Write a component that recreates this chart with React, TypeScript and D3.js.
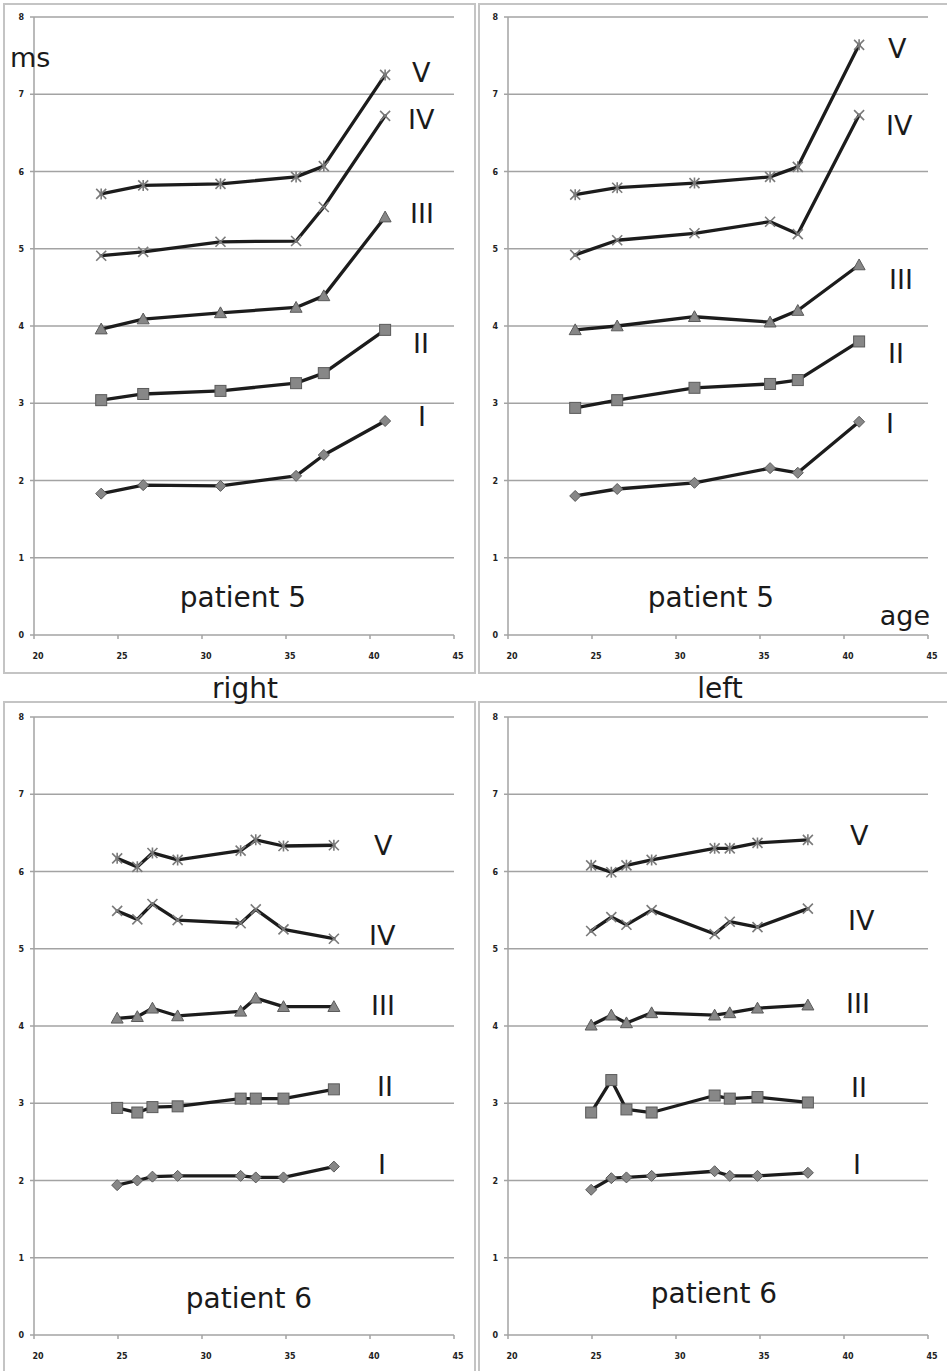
import React from "react";
import * as d3 from "d3";

// ---- data ----
const xTicks = [20, 25, 30, 35, 40, 45];
const yTicks = [0, 1, 2, 3, 4, 5, 6, 7, 8];
const waveNames = ["I", "II", "III", "IV", "V"];

const p5Age = [24.0, 26.5, 31.1, 35.6, 37.25, 40.9];
const p5RightI = [1.83, 1.94, 1.93, 2.06, 2.33, 2.77];
const p5RightII = [3.04, 3.12, 3.16, 3.26, 3.39, 3.95];
const p5RightIII = [3.96, 4.09, 4.17, 4.24, 4.39, 5.41];
const p5RightIV = [4.91, 4.96, 5.09, 5.1, 5.54, 6.72];
const p5RightV = [5.71, 5.82, 5.84, 5.93, 6.07, 7.25];

const p5LeftI = [1.8, 1.89, 1.97, 2.16, 2.1, 2.76];
const p5LeftII = [2.94, 3.04, 3.2, 3.25, 3.3, 3.8];
const p5LeftIII = [3.95, 4.0, 4.12, 4.05, 4.2, 4.79];
const p5LeftIV = [4.92, 5.11, 5.2, 5.35, 5.19, 6.73];
const p5LeftV = [5.7, 5.79, 5.85, 5.93, 6.06, 7.64];

const p6Age = [24.95, 26.15, 27.05, 28.55, 32.3, 33.2, 34.85, 37.85];
const p6RightI = [1.94, 2.0, 2.05, 2.06, 2.06, 2.04, 2.04, 2.18];
const p6RightII = [2.94, 2.88, 2.95, 2.96, 3.06, 3.06, 3.06, 3.18];
const p6RightIII = [4.1, 4.12, 4.23, 4.13, 4.19, 4.36, 4.25, 4.25];
const p6RightIV = [5.49, 5.38, 5.58, 5.37, 5.33, 5.51, 5.25, 5.13];
const p6RightV = [6.17, 6.06, 6.24, 6.15, 6.27, 6.41, 6.33, 6.34];

const p6LeftI = [1.88, 2.03, 2.04, 2.06, 2.12, 2.06, 2.06, 2.1];
const p6LeftII = [2.88, 3.3, 2.92, 2.88, 3.1, 3.06, 3.08, 3.01];
const p6LeftIII = [4.01, 4.14, 4.04, 4.17, 4.14, 4.17, 4.23, 4.27];
const p6LeftIV = [5.23, 5.41, 5.31, 5.5, 5.19, 5.35, 5.28, 5.52];
const p6LeftV = [6.08, 5.99, 6.08, 6.15, 6.3, 6.3, 6.37, 6.41];

// wave label anchors in data coordinates [age, ms]
const p5RightLabelPos = [[42.86, 2.71], [42.56, 3.65], [42.38, 5.33], [42.26, 6.55], [42.5, 7.16]];
const p5LeftLabelPos = [[42.5, 2.61], [42.62, 3.52], [42.68, 4.48], [42.5, 6.47], [42.62, 7.47]];
const p6RightLabelPos = [[40.48, 2.08], [40.42, 3.09], [40.06, 4.14], [39.94, 5.05], [40.24, 6.21]];
const p6LeftLabelPos = [[40.54, 2.08], [40.42, 3.08], [40.12, 4.17], [40.24, 5.24], [40.36, 6.34]];

const FONT = "DejaVu Sans, Verdana, sans-serif";

type PanelProps = {
  ox: number;
  oy: number;
  frame: [number, number, number, number];
  ages: number[];
  series: number[][];
  labelPos: number[][];
  title: string;
  titleX: number;
  titleY: number;
};

function Marker({ kind, x, y }: { kind: number; x: number; y: number }) {
  const fill = "#878787";
  const stroke = "#5a5a5a";
  if (kind === 0) {
    const r = 5.5;
    return (
      <path
        d={`M${x},${y - r}L${x + r},${y}L${x},${y + r}L${x - r},${y}Z`}
        fill={fill}
        stroke={stroke}
        strokeWidth={1}
      />
    );
  }
  if (kind === 1) {
    const r = 5.5;
    return <rect x={x - r} y={y - r} width={2 * r} height={2 * r} fill={fill} stroke={stroke} strokeWidth={1} />;
  }
  if (kind === 2) {
    const r = 6;
    return (
      <path
        d={`M${x},${y - r}L${x + r},${y + r * 0.8}L${x - r},${y + r * 0.8}Z`}
        fill={fill}
        stroke={stroke}
        strokeWidth={1}
      />
    );
  }
  const r = 5;
  let d = `M${x - r},${y - r}L${x + r},${y + r}M${x - r},${y + r}L${x + r},${y - r}`;
  if (kind === 4) d += `M${x},${y - r - 0.5}L${x},${y + r + 0.5}`;
  return <path d={d} stroke="#7a7a7a" strokeWidth={1.6} fill="none" />;
}

function Panel(p: PanelProps) {
  const x = d3.scaleLinear().domain([20, 45]).range([p.ox + 34, p.ox + 454]);
  const y = d3.scaleLinear().domain([0, 8]).range([p.oy + 635, p.oy + 17]);
  const line = d3
    .line<number>()
    .x((_, i) => x(p.ages[i]))
    .y((v) => y(v));
  const [fx, fy, fw, fh] = p.frame;
  return (
    <g>
      <rect x={fx} y={fy} width={fw} height={fh} fill="#fff" stroke="#c4c4c4" strokeWidth={2} />
      {yTicks.map((t) => (
        <g key={"y" + t}>
          <line x1={x(20)} x2={x(45)} y1={y(t)} y2={y(t)} stroke="#a3a3a3" strokeWidth={1.5} />
          <line x1={x(20) - 4} x2={x(20)} y1={y(t)} y2={y(t)} stroke="#a3a3a3" strokeWidth={1.5} />
          <text x={x(20) - 10} y={y(t) + 3} fontSize={8} fontWeight="bold" fontFamily={FONT} textAnchor="end" fill="#222">
            {t}
          </text>
        </g>
      ))}
      <line x1={x(20)} x2={x(20)} y1={y(0)} y2={y(8)} stroke="#a3a3a3" strokeWidth={1.5} />
      {xTicks.map((t) => (
        <g key={"x" + t}>
          <line x1={x(t)} x2={x(t)} y1={y(0)} y2={y(0) + 4} stroke="#a3a3a3" strokeWidth={1.5} />
          <text x={x(t) + 4} y={y(0) + 24} fontSize={8} fontWeight="bold" fontFamily={FONT} textAnchor="middle" fill="#222">
            {t}
          </text>
        </g>
      ))}
      {p.series.map((s, k) => (
        <path
          key={"l" + k}
          d={line(s) || ""}
          fill="none"
          stroke="#1c1c1c"
          strokeWidth={3.3}
          strokeLinejoin="round"
          strokeLinecap="round"
        />
      ))}
      {p.series.map((s, k) =>
        s.map((v, i) => <Marker key={"m" + k + "-" + i} kind={k} x={x(p.ages[i])} y={y(v)} />)
      )}
      {p.labelPos.map((lp, k) => (
        <text key={"w" + k} x={x(lp[0])} y={y(lp[1])} fontSize={27} fontFamily={FONT} fill="#1a1a1a">
          {waveNames[k]}
        </text>
      ))}
      <text x={p.titleX} y={p.titleY} fontSize={28} fontFamily={FONT} textAnchor="middle" fill="#1a1a1a">
        {p.title}
      </text>
    </g>
  );
}

export default function App() {
  return (
    <svg
      width={947}
      height={1371}
      style={{ position: "absolute", left: 0, top: 0, background: "#fff" }}
    >
      <rect x={0} y={0} width={947} height={1371} fill="#fff" />
      <Panel
        ox={0}
        oy={0}
        frame={[4, 4, 471, 669]}
        ages={p5Age}
        series={[p5RightI, p5RightII, p5RightIII, p5RightIV, p5RightV]}
        labelPos={p5RightLabelPos}
        title="patient 5"
        titleX={243}
        titleY={607}
      />
      <Panel
        ox={474}
        oy={0}
        frame={[479, 4, 470, 669]}
        ages={p5Age}
        series={[p5LeftI, p5LeftII, p5LeftIII, p5LeftIV, p5LeftV]}
        labelPos={p5LeftLabelPos}
        title="patient 5"
        titleX={711}
        titleY={607}
      />
      <Panel
        ox={0}
        oy={700}
        frame={[4, 702, 471, 672]}
        ages={p6Age}
        series={[p6RightI, p6RightII, p6RightIII, p6RightIV, p6RightV]}
        labelPos={p6RightLabelPos}
        title="patient 6"
        titleX={249}
        titleY={1308}
      />
      <Panel
        ox={474}
        oy={700}
        frame={[479, 702, 470, 672]}
        ages={p6Age}
        series={[p6LeftI, p6LeftII, p6LeftIII, p6LeftIV, p6LeftV]}
        labelPos={p6LeftLabelPos}
        title="patient 6"
        titleX={714}
        titleY={1303}
      />
      <text x={10} y={67} fontSize={27} fontFamily={FONT} fill="#1a1a1a">ms</text>
      <text x={930} y={625} fontSize={27} fontFamily={FONT} textAnchor="end" fill="#1a1a1a">age</text>
      <text x={245} y={698} fontSize={28} fontFamily={FONT} textAnchor="middle" fill="#1a1a1a">right</text>
      <text x={720} y={698} fontSize={28} fontFamily={FONT} textAnchor="middle" fill="#1a1a1a">left</text>
    </svg>
  );
}
